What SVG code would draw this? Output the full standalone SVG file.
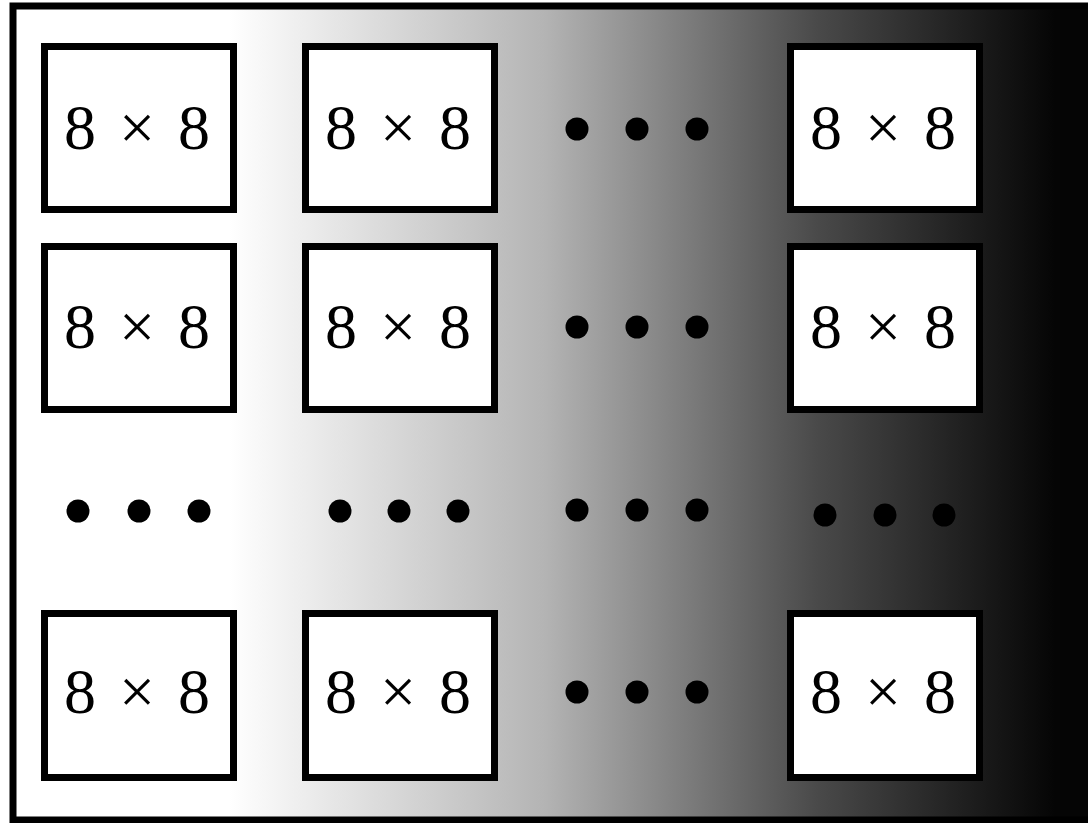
<svg xmlns="http://www.w3.org/2000/svg" width="1088" height="823" viewBox="0 0 1088 823">
<defs>
<linearGradient id="bg" x1="0" y1="0" x2="1088" y2="0" gradientUnits="userSpaceOnUse">
<stop offset="0.21" stop-color="#ffffff"/>
<stop offset="0.5" stop-color="#b4b4b4"/>
<stop offset="0.75" stop-color="#4a4a4a"/>
<stop offset="0.97" stop-color="#050505"/>
</linearGradient>
<style>
.box{fill:#fff;stroke:#000;stroke-width:7}
.lbl{font-size:64px;text-anchor:middle;fill:#000}
.dot{fill:#000}
</style>
</defs>
<rect x="0" y="0" width="1088" height="823" fill="#fff"/>
<rect x="13" y="6" width="1080" height="814" fill="url(#bg)" stroke="#000" stroke-width="7"/>
<g font-family="Liberation Serif, serif">
<g id="n11"><rect class="box" x="44.5" y="46.5" width="189" height="163"/><text class="lbl" y="149"><tspan x="80">8</tspan><tspan x="137">×</tspan><tspan x="194">8</tspan></text></g>
<g id="n12"><rect class="box" x="305.5" y="46.5" width="189" height="163"/><text class="lbl" y="149"><tspan x="341">8</tspan><tspan x="398">×</tspan><tspan x="455">8</tspan></text></g>
<g id="d13"><circle class="dot" cx="577" cy="129" r="11.5"/><circle class="dot" cx="637" cy="129" r="11.5"/><circle class="dot" cx="697" cy="129" r="11.5"/></g>
<g id="n14"><rect class="box" x="790.5" y="46.5" width="189" height="163"/><text class="lbl" y="149"><tspan x="826">8</tspan><tspan x="883">×</tspan><tspan x="940">8</tspan></text></g>
<g id="n21"><rect class="box" x="44.5" y="246.5" width="189" height="163"/><text class="lbl" y="348"><tspan x="80">8</tspan><tspan x="137">×</tspan><tspan x="194">8</tspan></text></g>
<g id="n22"><rect class="box" x="305.5" y="246.5" width="189" height="163"/><text class="lbl" y="348"><tspan x="341">8</tspan><tspan x="398">×</tspan><tspan x="455">8</tspan></text></g>
<g id="d23"><circle class="dot" cx="577" cy="327" r="11.5"/><circle class="dot" cx="637" cy="327" r="11.5"/><circle class="dot" cx="697" cy="327" r="11.5"/></g>
<g id="n24"><rect class="box" x="790.5" y="246.5" width="189" height="163"/><text class="lbl" y="348"><tspan x="826">8</tspan><tspan x="883">×</tspan><tspan x="940">8</tspan></text></g>
<g id="d31"><circle class="dot" cx="78" cy="511" r="11.5"/><circle class="dot" cx="139" cy="511" r="11.5"/><circle class="dot" cx="199" cy="511" r="11.5"/></g>
<g id="d32"><circle class="dot" cx="340" cy="511" r="11.5"/><circle class="dot" cx="399" cy="511" r="11.5"/><circle class="dot" cx="458" cy="511" r="11.5"/></g>
<g id="d33"><circle class="dot" cx="577" cy="510" r="11.5"/><circle class="dot" cx="637" cy="510" r="11.5"/><circle class="dot" cx="697" cy="510" r="11.5"/></g>
<g id="d34"><circle class="dot" cx="825" cy="515" r="11.5"/><circle class="dot" cx="885" cy="515" r="11.5"/><circle class="dot" cx="944" cy="515" r="11.5"/></g>
<g id="n41"><rect class="box" x="44.5" y="613.5" width="189" height="164"/><text class="lbl" y="713"><tspan x="80">8</tspan><tspan x="137">×</tspan><tspan x="194">8</tspan></text></g>
<g id="n42"><rect class="box" x="305.5" y="613.5" width="189" height="164"/><text class="lbl" y="713"><tspan x="341">8</tspan><tspan x="398">×</tspan><tspan x="455">8</tspan></text></g>
<g id="d43"><circle class="dot" cx="577" cy="692" r="11.5"/><circle class="dot" cx="637" cy="692" r="11.5"/><circle class="dot" cx="697" cy="692" r="11.5"/></g>
<g id="n44"><rect class="box" x="790.5" y="613.5" width="189" height="164"/><text class="lbl" y="713"><tspan x="826">8</tspan><tspan x="883">×</tspan><tspan x="940">8</tspan></text></g>
</g>
<g id="connectors"></g>
</svg>
